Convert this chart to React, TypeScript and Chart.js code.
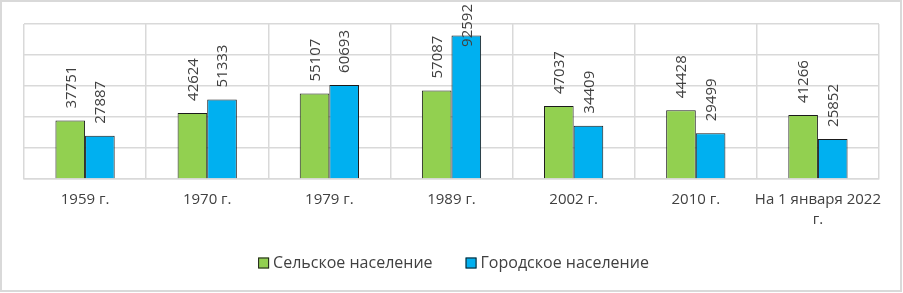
import React, { useEffect, useRef } from "react";
import { Chart, registerables } from "chart.js";

Chart.register(...registerables);

const categories: (string | string[])[] = [
  "1959 г.",
  "1970 г.",
  "1979 г.",
  "1989 г.",
  "2002 г.",
  "2010 г.",
  ["На 1 января 2022", "г."],
];
const ruralLabel = "Сельское население";
const urbanLabel = "Городское население";
const ruralValues = [37751, 42624, 55107, 57087, 47037, 44428, 41266];
const urbanValues = [27887, 51333, 60693, 92592, 34409, 29499, 25852];
const yMax = 100000;
const yStep = 20000;

const FONT = "'Open Sans', 'Noto Sans', sans-serif";
const TEXT = "#404040";
const GRID = "#d9d9d9";

const frame = {
  id: "frame",
  beforeDraw(chart: any) {
    const { ctx, width, height } = chart;
    ctx.save();
    ctx.fillStyle = "#ffffff";
    ctx.fillRect(0, 0, width, height);
    ctx.strokeStyle = GRID;
    ctx.lineWidth = 2;
    ctx.strokeRect(1, 1, width - 3, height - 3);
    ctx.restore();
  },
};

const valueLabels = {
  id: "valueLabels",
  afterDatasetsDraw(chart: any) {
    const { ctx } = chart;
    ctx.save();
    ctx.font = `15px ${FONT}`;
    ctx.fillStyle = TEXT;
    ctx.textAlign = "left";
    ctx.textBaseline = "middle";
    chart.data.datasets.forEach((ds: any, di: number) => {
      const meta = chart.getDatasetMeta(di);
      meta.data.forEach((bar: any, i: number) => {
        const text = String(ds.data[i]);
        const w = ctx.measureText(text).width;
        let start = bar.y - 12;
        if (start - w < 4) start = 4 + w;
        ctx.save();
        ctx.translate(bar.x + 1, start);
        ctx.rotate(-Math.PI / 2);
        ctx.fillText(text, 0, 0);
        ctx.restore();
      });
    });
    ctx.restore();
  },
};

const customLegend = {
  id: "customLegend",
  afterDraw(chart: any) {
    const { ctx, width } = chart;
    const box = 11;
    const boxGap = 4;
    const itemGap = 33;
    const y = 263;
    ctx.save();
    ctx.font = `16px ${FONT}`;
    ctx.textBaseline = "middle";
    ctx.textAlign = "left";
    const items = chart.data.datasets.map((ds: any) => ({
      label: ds.label as string,
      color: ds.backgroundColor as string,
      w: ctx.measureText(ds.label).width,
    }));
    const total =
      items.reduce((s: number, it: any) => s + box + boxGap + it.w, 0) +
      itemGap * (items.length - 1);
    let x = width / 2 + 2 - total / 2;
    items.forEach((it: any) => {
      ctx.fillStyle = it.color;
      ctx.fillRect(x, y - box / 2, box, box);
      ctx.strokeStyle = "#1a1a1a";
      ctx.lineWidth = 1;
      ctx.strokeRect(x + 0.5, y - box / 2 + 0.5, box - 1, box - 1);
      ctx.fillStyle = TEXT;
      ctx.fillText(it.label, x + box + boxGap, y);
      x += box + boxGap + it.w + itemGap;
    });
    ctx.restore();
  },
};

export default function App() {
  const ref = useRef<HTMLCanvasElement>(null);
  useEffect(() => {
    if (!ref.current) return;
    const chart = new Chart(ref.current, {
      type: "bar",
      data: {
        labels: categories,
        datasets: [
          {
            label: ruralLabel,
            data: ruralValues,
            backgroundColor: "#92d050",
            borderColor: "#1a1a1a",
            borderWidth: 1,
            barPercentage: 1,
            categoryPercentage: 0.485,
          },
          {
            label: urbanLabel,
            data: urbanValues,
            backgroundColor: "#00b0f0",
            borderColor: "#1a1a1a",
            borderWidth: 1,
            barPercentage: 1,
            categoryPercentage: 0.485,
          },
        ],
      },
      options: {
        responsive: false,
        animation: false,
        layout: { padding: { top: 24, left: 24, right: 24, bottom: 0 } },
        plugins: {
          tooltip: { enabled: false },
          legend: { display: false },
        },
        scales: {
          x: {
            grid: { offset: true, color: GRID, lineWidth: 1.5, drawTicks: false },
            border: { color: GRID, width: 1.5 },
            ticks: {
              color: TEXT,
              font: { family: FONT, size: 15, lineHeight: 1.3 },
              padding: 11,
              maxRotation: 0,
              autoSkip: false,
            },
            afterFit: (s: any) => {
              s.height = 114;
            },
          },
          y: {
            min: 0,
            max: yMax,
            ticks: { display: false, stepSize: yStep },
            grid: { color: GRID, lineWidth: 1.5, drawTicks: false },
            border: { display: false },
            afterFit: (s: any) => {
              s.width = 0;
            },
          },
        },
      },
      plugins: [frame, valueLabels, customLegend],
    });
    return () => chart.destroy();
  }, []);
  return (
    <div style={{ position: "absolute", left: 0, top: 0, width: 903, height: 293 }}>
      <canvas ref={ref} width={903} height={293} style={{ width: 903, height: 293 }} />
    </div>
  );
}
